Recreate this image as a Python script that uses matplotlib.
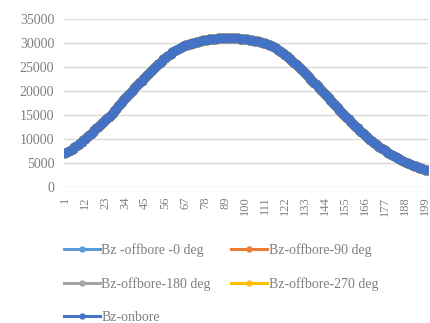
import matplotlib
matplotlib.use("Agg")
import matplotlib.pyplot as plt

# sample index along the bore (Excel category axis)
positions = list(range(1, 201))

# Bz on the bore axis
bz_onbore = [
    7000, 7250, 7500, 7750, 8000, 8300, 8550, 8850, 9150, 9450,
    9750, 10100, 10450, 10800, 11150, 11500, 11850, 12200, 12550, 12900,
    13250, 13600, 13950, 14300, 14650, 15050, 15500, 15900, 16350, 16800,
    17200, 17650, 18100, 18500, 18950, 19350, 19800, 20200, 20600, 21000,
    21400, 21800, 22150, 22550, 22950, 23300, 23700, 24100, 24450, 24850,
    25200, 25550, 25900, 26250, 26600, 26950, 27250, 27550, 27800, 28050,
    28300, 28550, 28750, 28950, 29150, 29350, 29500, 29650, 29800, 29900,
    30000, 30100, 30200, 30300, 30400, 30500, 30600, 30650, 30700, 30750,
    30800, 30850, 30900, 30900, 30950, 30950, 31000, 31000, 31000, 31000,
    31000, 31000, 31000, 31000, 30950, 30950, 30900, 30900, 30850, 30800,
    30750, 30700, 30650, 30550, 30500, 30400, 30350, 30250, 30150, 30050,
    29950, 29800, 29650, 29500, 29300, 29100, 28900, 28650, 28400, 28150,
    27900, 27600, 27300, 26950, 26600, 26250, 25900, 25550, 25200, 24850,
    24500, 24100, 23700, 23300, 22950, 22550, 22150, 21750, 21400, 21000,
    20600, 20150, 19750, 19300, 18900, 18450, 18050, 17650, 17200, 16800,
    16400, 16000, 15600, 15200, 14850, 14450, 14100, 13700, 13350, 12950,
    12600, 12250, 11900, 11550, 11200, 10850, 10500, 10150, 9850, 9500,
    9200, 8900, 8650, 8400, 8150, 7900, 7650, 7400, 7150, 6950,
    6700, 6500, 6300, 6100, 5900, 5700, 5500, 5300, 5100, 4950,
    4800, 4600, 4450, 4300, 4150, 4000, 3900, 3750, 3650, 3500,
]

# the off-bore series sit exactly under the on-bore curve in the chart
bz_off_0 = bz_onbore
bz_off_90 = bz_onbore
bz_off_180 = bz_onbore
bz_off_270 = bz_onbore

series_names = ["Bz -offbore -0 deg", "Bz-offbore-90 deg", "Bz-offbore-180 deg",
                "Bz-offbore-270 deg", "Bz-onbore"]
series_colors = ["#5B9BD5", "#ED7D31", "#A5A5A5", "#FFC000", "#4472C4"]
y_ticks = [0, 5000, 10000, 15000, 20000, 25000, 30000, 35000]

txt = "#7f7f7f"
plt.rcParams["font.family"] = ["Liberation Serif", "DejaVu Serif"]

fig = plt.figure(figsize=(4.3, 3.23), dpi=100)
ax = fig.add_axes([0.149, 0.421, 0.846, 0.52])

lines = {}
for name, vals, col in zip(series_names,
                           [bz_off_0, bz_off_90, bz_off_180, bz_off_270, bz_onbore],
                           series_colors):
    (ln,) = ax.plot(positions, vals, color=col, lw=3, marker="o", ms=7,
                    markeredgewidth=0, label=name)
    lines[name] = ln

ax.set_xlim(0.3, 200.7)
ax.set_ylim(0, 35000)
ax.set_yticks(y_ticks)
ax.set_yticklabels([str(v) for v in y_ticks], fontsize=10, color=txt)
ax.set_xticks(positions[::11])
ax.set_xticklabels([str(p) for p in positions[::11]], rotation=90,
                   fontsize=9, color=txt)
ax.grid(axis="y", color="#d9d9d9", lw=1)
ax.set_axisbelow(True)
for s in ax.spines.values():
    s.set_visible(False)
ax.tick_params(length=0, pad=7)

# row-wise order like Excel: matplotlib fills legend columns first
order = [series_names[i] for i in (0, 2, 4, 1, 3)]
leg = fig.legend([lines[n] for n in order], order, loc="upper left",
                 bbox_to_anchor=(0.135, 0.265), ncol=2, frameon=False,
                 fontsize=10, labelcolor=txt, handlelength=2.6,
                 handletextpad=0.1, labelspacing=1.45, columnspacing=1.5,
                 borderaxespad=0, markerscale=0.65)
for h in leg.legend_handles:
    h.set_linewidth(2.2)

fig.savefig("out.png", dpi=100)
